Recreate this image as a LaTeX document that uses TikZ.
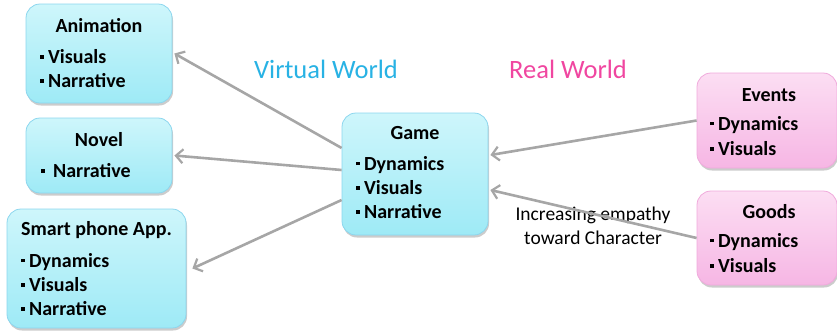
\documentclass[tikz,border=0pt]{standalone}
\usepackage{fontspec}
\setmainfont{Carlito}
\usetikzlibrary{arrows.meta,shadows}
\definecolor{cyantop}{RGB}{206,246,251}
\definecolor{cyanbot}{RGB}{158,234,246}
\definecolor{cyanedge}{RGB}{140,214,238}
\definecolor{pinktop}{RGB}{252,222,243}
\definecolor{pinkbot}{RGB}{246,182,228}
\definecolor{pinkedge}{RGB}{240,170,220}
\definecolor{arrowgray}{RGB}{166,166,166}
\definecolor{virtualcol}{RGB}{40,178,228}
\definecolor{realcol}{RGB}{240,70,160}
% square list bullet
\newcommand{\bul}{\raisebox{0.55ex}{\rule{3.4pt}{3.4pt}}\hspace{4.5pt}}
\begin{document}
\begin{tikzpicture}[x=1pt,y=-1pt,
  basebox/.style={rounded corners=14pt, line width=0.8pt, inner sep=0pt,
    drop shadow={shadow xshift=1pt, shadow yshift=-2.5pt, opacity=0.2, fill=black}},
  cbox/.style={basebox, draw=cyanedge, top color=cyantop, bottom color=cyanbot},
  pbox/.style={basebox, draw=pinkedge, top color=pinktop, bottom color=pinkbot},
  ttl/.style={font=\bfseries\fontsize{20}{22}\selectfont, inner sep=0pt},
  itm/.style={font=\bfseries\fontsize{20}{22}\selectfont, anchor=west, inner sep=0pt},
  conn/.style={draw=arrowgray, line width=2.6pt,
    -{Straight Barb[length=7pt,width=14pt,line width=2.2pt]}}]
\useasboundingbox (0,0) rectangle (837,333);

% boxes
\node[cbox, minimum width=146pt, minimum height=99pt] (anim) at (99,53.5) {};
\node[cbox, minimum width=146pt, minimum height=75pt] (novel) at (99,155.5) {};
\node[cbox, minimum width=179pt, minimum height=119pt] (smart) at (96.5,268.5) {};
\node[cbox, minimum width=146pt, minimum height=122pt] (game) at (415,174) {};
\node[pbox, minimum width=140pt, minimum height=95pt] (events) at (767,120.5) {};
\node[pbox, minimum width=140pt, minimum height=94pt] (goods) at (767,238) {};

% box contents
\node[ttl] (animT) at (99,26) {Animation};
\node[itm] (animA) at (40,57) {\bul Visuals};
\node[itm] (animB) at (40,81) {\bul Narrative};

\node[ttl] (novelT) at (99,140) {Novel};
\node[itm] (novelA) at (41,171) {\bul\hspace{4pt}Narrative};

\node[itm] (smartT) at (21,230) {Smart phone App.};
\node[itm] (smartA) at (21,262) {\bul Dynamics};
\node[itm] (smartB) at (21,285) {\bul Visuals};
\node[itm] (smartC) at (21,309) {\bul Narrative};

\node[ttl] (gameT) at (415,133) {Game};
\node[itm] (gameA) at (356,165) {\bul Dynamics};
\node[itm] (gameB) at (356,188) {\bul Visuals};
\node[itm] (gameC) at (356,212) {\bul Narrative};

\node[ttl] (eventsT) at (769,95) {Events};
\node[itm] (eventsA) at (710,125) {\bul Dynamics};
\node[itm] (eventsB) at (710,149) {\bul Visuals};

\node[ttl] (goodsT) at (769,212) {Goods};
\node[itm] (goodsA) at (710,242) {\bul Dynamics};
\node[itm] (goodsB) at (710,266) {\bul Visuals};

% world labels
\node[font=\fontsize{26.5}{30}\selectfont, text=virtualcol, inner sep=0pt] (virt) at (326,69) {Virtual World};
\node[font=\fontsize{26.5}{30}\selectfont, text=realcol, inner sep=0pt] (real) at (568,69) {Real World};

% empathy label
\node[font=\fontsize{19.5}{24}\selectfont, align=center, inner sep=0pt] (emp) at (593,226) {Increasing empathy\\toward Character};

% connectors
\draw[conn] ([yshift=26pt]game.west) -- ([xshift=2pt]anim.east);
\draw[conn] ([yshift=4pt]game.west) -- ([xshift=2pt]novel.east);
\draw[conn] ([yshift=-26pt]game.west) -- ([xshift=6pt]smart.east);
\draw[conn] (events.west) -- ([xshift=2pt,yshift=19pt]game.east);
\draw[conn] (goods.west) -- ([xshift=2pt,yshift=-16pt]game.east);
\end{tikzpicture}
\end{document}
